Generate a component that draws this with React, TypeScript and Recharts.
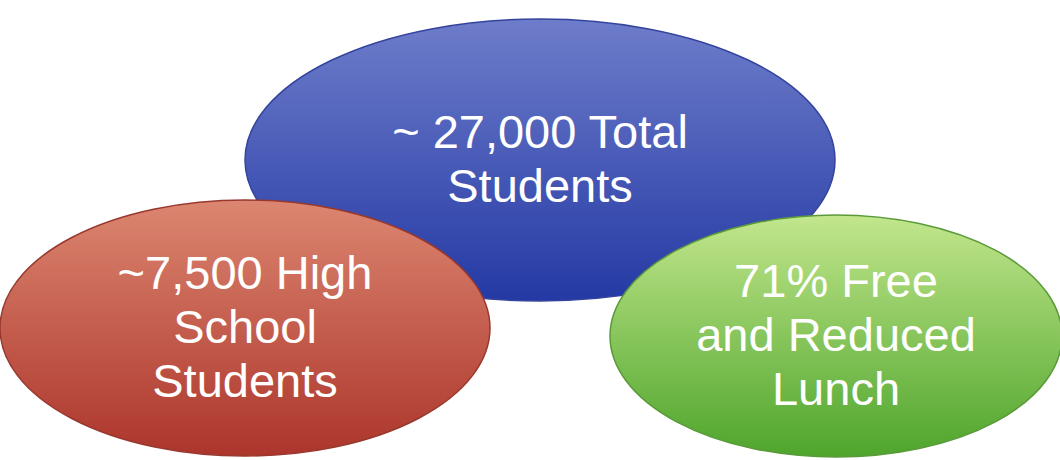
import { ScatterChart, Scatter, XAxis, YAxis } from "recharts";

// three overlapping ovals, drawn back to front
const names = ["total", "highSchool", "lunch"];
const centerX = [540, 245, 836];
const centerY = [160, 328, 336];
const radiusX = [295, 245, 226];
const radiusY = [141, 128, 121];
const labels = [
  ["~ 27,000 Total", "Students"],
  ["~7,500 High", "School", "Students"],
  ["71% Free", "and Reduced", "Lunch"],
];
const topColors = ["#6e7dca", "#dc8670", "#c2e68c"];
const bottomColors = ["#2439a4", "#ac352c", "#4ea52c"];
const edgeColors = ["#34449c", "#98382e", "#5a9a3a"];

const W = 1060;
const H = 460;
const xDomain = [0, W];
const yDomain = [0, H];

const ovals = names.map((name, i) => ({
  name,
  x: centerX[i],
  y: centerY[i],
  rx: radiusX[i],
  ry: radiusY[i],
  lines: labels[i],
  idx: i,
}));

// pixels per data unit (no margins, hidden axes)
const kx = W / (xDomain[1] - xDomain[0]);
const ky = H / (yDomain[1] - yDomain[0]);

const Oval = (props: any) => {
  const { cx, cy, payload } = props;
  const i = payload.idx;
  const rx = payload.rx * kx;
  const ry = payload.ry * ky;
  const lineH = 54;
  const n = payload.lines.length;
  const first = cy - ((n - 1) * lineH) / 2 + 15;
  return (
    <g>
      <defs>
        <linearGradient id={"g" + i} x1="0" y1="0" x2="0" y2="1">
          <stop offset="0%" stopColor={topColors[i]} />
          <stop offset="100%" stopColor={bottomColors[i]} />
        </linearGradient>
      </defs>
      <ellipse
        cx={cx}
        cy={cy}
        rx={rx}
        ry={ry}
        fill={`url(#g${i})`}
        stroke={edgeColors[i]}
        strokeWidth={1.5}
      />
      <text
        x={cx}
        textAnchor="middle"
        fill="#ffffff"
        fontSize={47}
        fontFamily="Liberation Sans, Arial, sans-serif"
      >
        {payload.lines.map((l: string, k: number) => (
          <tspan key={k} x={cx} y={first + k * lineH}>
            {l}
          </tspan>
        ))}
      </text>
    </g>
  );
};

export default function App() {
  return (
    <div style={{ position: "fixed", left: 0, top: 0, width: W, height: H, background: "#fff" }}>
      <ScatterChart width={W} height={H} margin={{ top: 0, right: 0, bottom: 0, left: 0 }}>
        <XAxis type="number" dataKey="x" domain={xDomain} hide />
        <YAxis type="number" dataKey="y" domain={yDomain} reversed hide />
        {ovals.map((o) => (
          <Scatter
            key={o.name}
            name={o.name}
            data={[o]}
            shape={Oval}
            isAnimationActive={false}
          />
        ))}
      </ScatterChart>
    </div>
  );
}
